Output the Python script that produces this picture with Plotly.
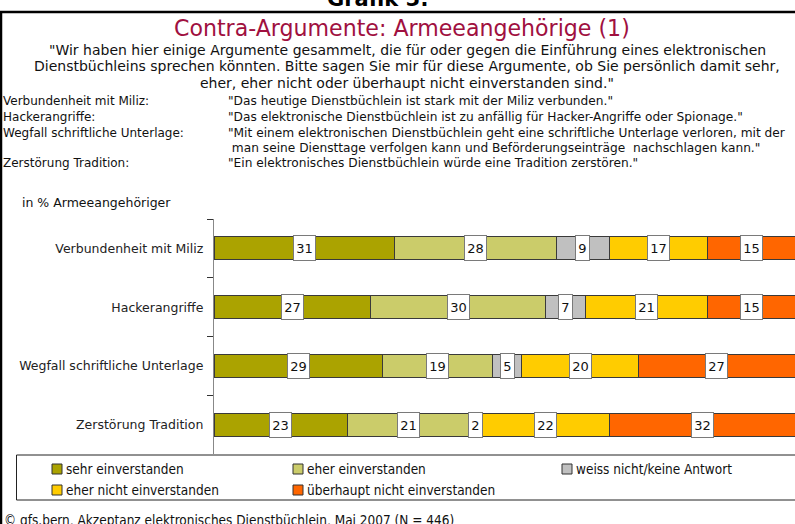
import plotly.graph_objects as go

# ---------------- data ----------------
categories = ["Verbundenheit mit Miliz", "Hackerangriffe",
              "Wegfall schriftliche Unterlage", "Zerstörung Tradition"]
series_names = ["sehr einverstanden", "eher einverstanden", "weiss nicht/keine Antwort",
                "eher nicht einverstanden", "überhaupt nicht einverstanden"]
sehr_einverstanden = [31, 27, 29, 23]
eher_einverstanden = [28, 30, 19, 21]
weiss_nicht = [9, 7, 5, 2]
eher_nicht_einverstanden = [17, 21, 20, 22]
ueberhaupt_nicht_einverstanden = [15, 15, 27, 32]
series_values = [sehr_einverstanden, eher_einverstanden, weiss_nicht,
                 eher_nicht_einverstanden, ueberhaupt_nicht_einverstanden]
colors = ["#ABA300", "#CBCC6A", "#C0C0C0", "#FFCC00", "#FF6600"]

definitions = [
    ("Verbundenheit mit Miliz:", '"Das heutige Dienstbüchlein ist stark mit der Miliz verbunden."'),
    ("Hackerangriffe:", '"Das elektronische Dienstbüchlein ist zu anfällig für Hacker-Angriffe oder Spionage."'),
    ("Wegfall schriftliche Unterlage:", '"Mit einem elektronischen Dienstbüchlein geht eine schriftliche Unterlage verloren, mit der'),
    ("", ' man seine Diensttage verfolgen kann und Beförderungseinträge  nachschlagen kann."'),
    ("Zerstörung Tradition:", '"Ein elektronisches Dienstbüchlein würde eine Tradition zerstören."'),
]
quote_lines = [
    '"Wir haben hier einige Argumente gesammelt, die für oder gegen die Einführung eines elektronischen',
    'Dienstbüchleins sprechen könnten. Bitte sagen Sie mir für diese Argumente, ob Sie persönlich damit sehr,',
    'eher, eher nicht oder überhaupt nicht einverstanden sind."',
]
title_text = "Contra-Argumente: Armeeangehörige (1)"
header_text = "Grafik 5:"
unit_text = "in % Armeeangehöriger"
source_text = "© gfs.bern, Akzeptanz elektronisches Dienstbüchlein, Mai 2007 (N = 446)"

# ---------------- layout geometry ----------------
W, H = 795, 524
ML, MR, MT, MB = 214, 0, 219, 70
PW, PH = W - ML - MR, H - MT - MB

def px(x):
    return (x - ML) / PW

def py(y):
    return (H - MB - y) / PH

FONT = "DejaVu Sans, Verdana, sans-serif"
NARROW = "Liberation Sans Narrow, Arial Narrow, DejaVu Sans Condensed, sans-serif"

fig = go.Figure()
for name, vals, col in zip(series_names, series_values, colors):
    fig.add_trace(go.Bar(
        y=categories, x=vals, name=name, orientation="h",
        marker=dict(color=col, line=dict(color="#3a3a3a", width=1)),
        hoverinfo="x+name",
    ))

annotations = []
# value labels
for i, cat in enumerate(categories):
    cum = 0
    for vals in series_values:
        v = vals[i]
        annotations.append(dict(
            x=cum + v / 2, y=cat, xref="x", yref="y", text=str(v), showarrow=False,
            font=dict(family=FONT, size=13, color="#111"),
            bgcolor="white", bordercolor="#7a7a7a", borderwidth=1, borderpad=1,
            width=11 if v < 10 else 19, height=22,
        ))
        cum += v

def txt(x, y, s, size, color="#111", xanchor="left", family=FONT, bold=False):
    annotations.append(dict(
        x=px(x), y=py(y), xref="paper", yref="paper", text=("<b>%s</b>" % s) if bold else s,
        showarrow=False, xanchor=xanchor, yanchor="middle",
        font=dict(family=family, size=size, color=color),
    ))

txt(378, -1, header_text, 21, "#000", "center", bold=True)
txt(402, 28, title_text, 22.1, "#A0103F", "center")
for k, line in enumerate(quote_lines):
    txt(407, 50 + k * 16.5, line, 14, "#111", "center")
def_y = [101, 117, 133, 148, 163]
for (lab, q), yy in zip(definitions, def_y):
    if lab:
        txt(1, yy, lab, 12)
    txt(226, yy, q, 12.2)
txt(20, 203, unit_text, 12.5)
txt(2, 520, source_text, 13.5, family=NARROW)

shapes = [
    dict(type="line", xref="paper", yref="paper", x0=px(0), x1=px(W + 5), y0=py(12), y1=py(12),
         line=dict(color="#000", width=2.5)),
    dict(type="line", xref="paper", yref="paper", x0=px(1), x1=px(1), y0=py(11), y1=py(H + 5),
         line=dict(color="#000", width=2.5)),
    dict(type="rect", xref="paper", yref="paper", x0=px(16.5), x1=px(W + 5), y0=py(455), y1=py(500),
         line=dict(color="#222", width=1), fillcolor="rgba(0,0,0,0)", layer="below"),
]

# legend (drawn as key squares + labels inside the legend box)
legend_slots = [(52, 469), (293, 469), (562, 469), (52, 490), (293, 490)]
for name, col, (lx, ly) in zip(series_names, colors, legend_slots):
    shapes.append(dict(type="rect", xref="paper", yref="paper",
                       x0=px(lx), x1=px(lx + 10), y0=py(ly - 5), y1=py(ly + 5),
                       fillcolor=col, line=dict(color="#333", width=1)))
    txt(lx + 12, ly, name, 13.5, "#111", family=NARROW)

fig.update_layout(
    width=W, height=H,
    margin=dict(l=ML, r=MR, t=MT, b=MB, pad=0, autoexpand=False),
    paper_bgcolor="white", plot_bgcolor="white",
    barmode="stack", bargap=0.61,
    font=dict(family=FONT, size=13, color="#222"),
    xaxis=dict(range=[0, 100], showgrid=False, zeroline=False, showticklabels=False,
               showline=False, ticks="", fixedrange=True, automargin=False),
    yaxis=dict(autorange="reversed", showline=True, linecolor="#888", linewidth=1.3,
               ticks="outside", tickson="boundaries", ticklen=6, tickcolor="#333",
               tickfont=dict(family=FONT, size=12.5, color="#222"), ticklabelstandoff=7,
               showgrid=False, zeroline=False, automargin=False),
    showlegend=False,
    annotations=annotations,
    shapes=shapes,
)

fig.write_html("out.html", config={"displayModeBar": False},
               post_script="document.body.style.margin='0';")
